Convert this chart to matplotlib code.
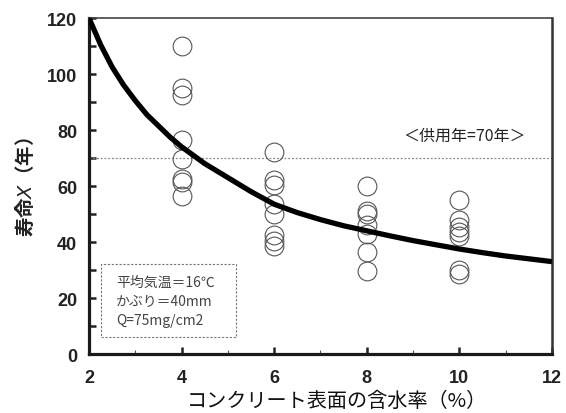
import matplotlib
matplotlib.use("Agg")
import matplotlib.pyplot as plt
from matplotlib.ticker import MultipleLocator
from matplotlib.patches import Rectangle

plt.rcParams['font.family'] = ['Noto Sans CJK JP', 'DejaVu Sans']

# Measured lifetimes at each surface moisture content (%)
moisture = [4, 6, 8, 10]
life_4 = [110, 95, 92.5, 76.5, 69.5, 62.5, 61.5, 56.5]
life_6 = [72, 62, 60.5, 53.5, 50, 42.5, 40.5, 38.5]
life_8 = [60, 51, 50, 46, 43, 36.3, 29.5]
life_10 = [55, 48, 45.5, 43.5, 42, 30, 28.5]
measured = [life_4, life_6, life_8, life_10]

# Predicted lifetime curve
curve_x = [2, 2.25, 2.5, 2.75, 3, 3.25, 3.5, 3.75, 4, 4.5, 5, 5.5, 6, 6.5, 7, 7.5,
           8, 8.5, 9, 9.5, 10, 10.5, 11, 11.5, 12]
curve_y = [120, 110.5, 102.5, 96, 90.5, 85.5, 81.5, 77.5, 74, 68, 63, 58, 53.5, 50.5,
           48, 45.8, 44, 42.2, 40.5, 39, 37.5, 36.2, 35, 34, 33]

service_life = 70
service_label = "＜供用年=70年＞"
conditions = ["平均気温＝16℃", "かぶり＝40mm", "Q=75mg/cm2"]

fig = plt.figure(figsize=(5.66, 4.14), dpi=100)
ax = fig.add_axes([0.1572, 0.1425, 0.818, 0.8116])

for xv, ys in zip(moisture, measured):
    ax.plot([xv] * len(ys), ys, linestyle='none', marker='o', markersize=13.5,
            markerfacecolor='none', markeredgecolor='#555555', markeredgewidth=0.8,
            zorder=3)

ax.plot(curve_x, curve_y, color='black', linewidth=3.8, solid_capstyle='butt',
        solid_joinstyle='round', zorder=4)

ax.axhline(service_life, color='#888888', linewidth=0.9, linestyle=(0, (1.5, 1.5)), zorder=2)
ax.text(10.12, 78, service_label, ha='center', va='center', fontsize=11.5, color='#222222')

# Conditions box
ax.add_patch(Rectangle((2.26, 6.1), 2.91, 26, fill=False, edgecolor='#777777',
                       linewidth=0.8, linestyle=(0, (2, 1.5)), zorder=2))
cond_y = [25.7, 18.9, 12.2]
for yv, line in zip(cond_y, conditions):
    ax.text(2.58, yv, line, ha='left', va='center', fontsize=10, color='#444444')

ax.set_xlim(2, 12)
ax.set_ylim(0, 120)
ax.xaxis.set_major_locator(MultipleLocator(2))
ax.xaxis.set_minor_locator(MultipleLocator(1))
ax.yaxis.set_major_locator(MultipleLocator(20))
ax.yaxis.set_minor_locator(MultipleLocator(10))
ax.tick_params(axis='both', which='major', direction='in', length=5, width=1.8,
               color='#222222', labelsize=13)
ax.tick_params(axis='x', which='major', pad=11)
ax.tick_params(axis='y', which='major', pad=8.5)
ax.tick_params(axis='x', which='minor', direction='in', length=3, width=0.8, color='#555555')
ax.tick_params(axis='y', which='minor', direction='in', length=5, width=1.8, color='#222222')
for lab in ax.get_xticklabels() + ax.get_yticklabels():
    lab.set_fontfamily('Liberation Sans')
    lab.set_fontweight('bold')
    lab.set_color('#222222')

for side in ['left', 'bottom']:
    ax.spines[side].set_linewidth(2.3)
    ax.spines[side].set_color('#1a1a1a')
ax.spines['right'].set_linewidth(1.8)
ax.spines['right'].set_color('#333333')
ax.spines['top'].set_linewidth(1.2)
ax.spines['top'].set_color('#444444')

ax.set_xlabel("コンクリート表面の含水率（%）", fontsize=14.5, color='#111111')
ax.xaxis.set_label_coords(0.536, -0.138)
ax.xaxis.label.set_va('center')
ax.set_ylabel("寿命$\\mathit{X}$（年）", fontsize=14, fontweight='bold', color='#222222',
              labelpad=8)

fig.savefig("out.png", dpi=100)
